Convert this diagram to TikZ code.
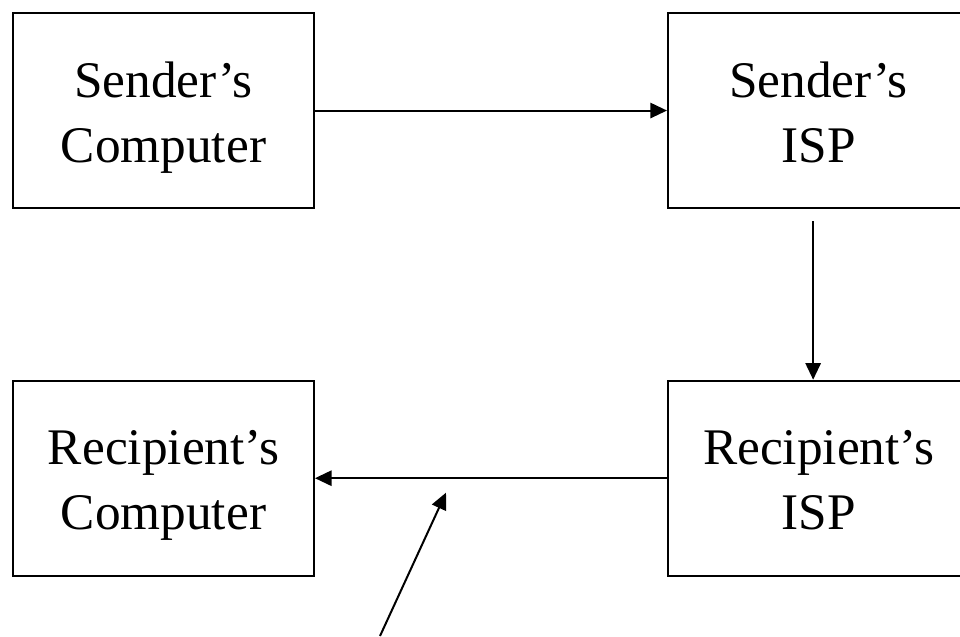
\documentclass[tikz,border=0pt]{standalone}
\usepackage{fontspec}
\setmainfont{Liberation Serif}
\usetikzlibrary{positioning,arrows.meta}

\tikzset{
  box/.style={draw,line width=1.5pt,minimum width=225.75pt,minimum height=146.25pt,
    align=center,font=\fontsize{38.5}{48.75}\selectfont,text height=77.25pt,text depth=0pt},
}

\begin{document}
\begin{tikzpicture}[line width=1.5pt,>={Triangle[length=12.5pt,width=11.5pt]}]
  \clip (0,0) rectangle (720pt,-477pt);
  \fill[white] (0,0) rectangle (720pt,-477pt);
  \node[box] (a) at (122.6pt,-82.9pt) {Sender’s\\Computer};
  \node[box] (b) [right =264pt of a] {Sender’s\\ISP};
  \node[box] (c) [below =128pt of b] {Recipient’s\\ISP};
  \node[box] (d) [left =264pt of c] {Recipient’s\\Computer};
  \coordinate (e) at (285pt,-477pt);
  \coordinate (f) at (334.5pt,-369.5pt);
  \draw[->](a)--(b);
  \draw[->,shorten <=9pt]([xshift=-4pt]b.south)--([xshift=-4pt]c.north);
  \draw[->](c)--(d);
  \draw[->](e)--(f);
\end{tikzpicture}
\end{document}
